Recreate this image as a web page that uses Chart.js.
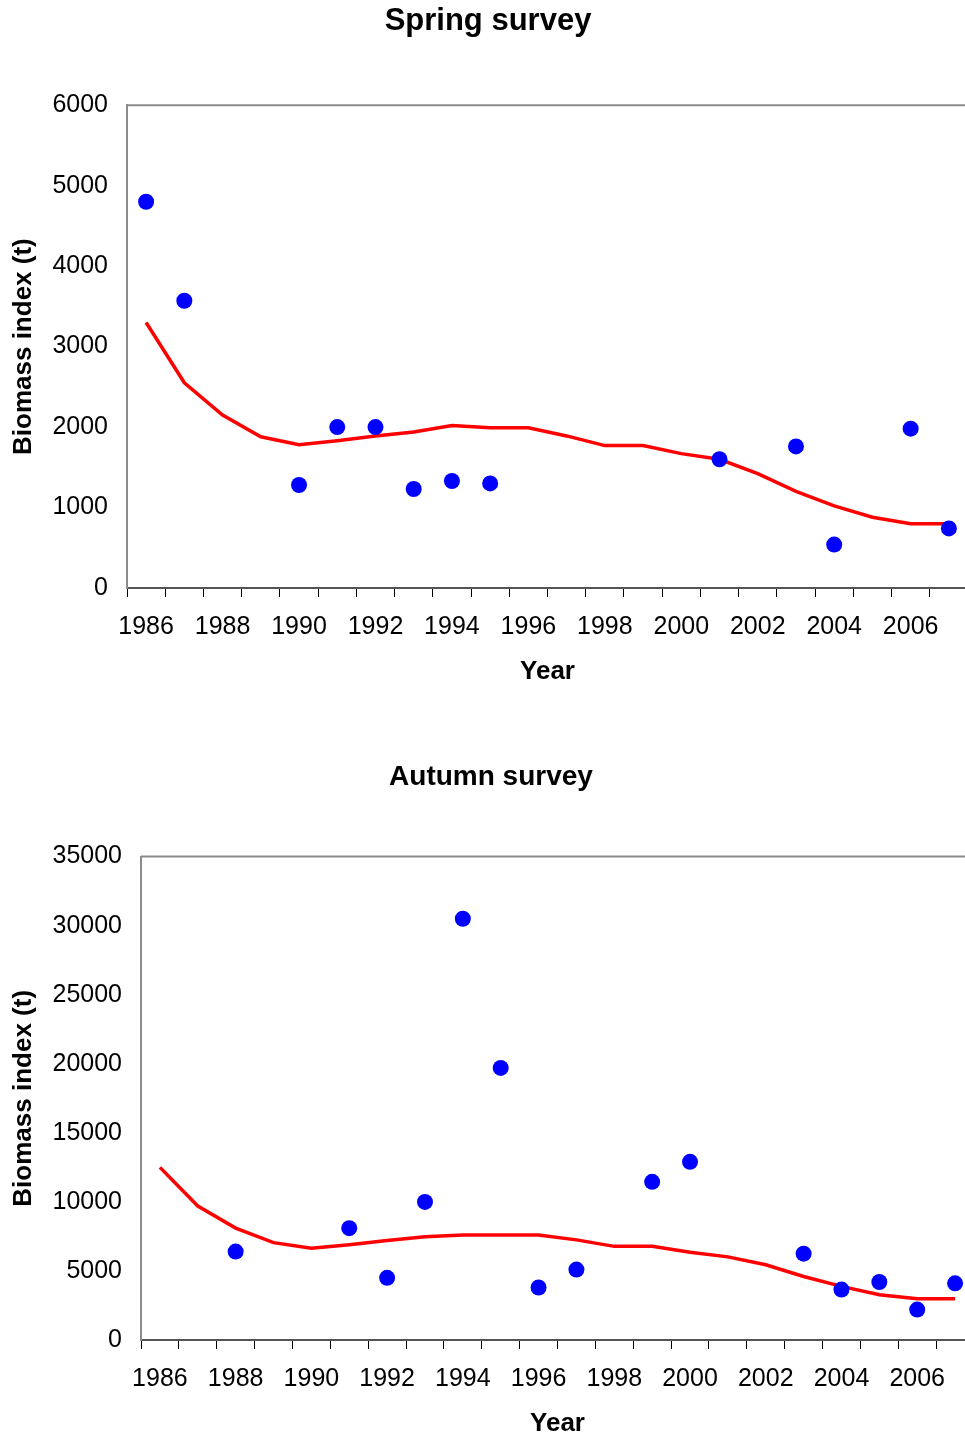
<!DOCTYPE html>
<html>
<head>
<meta charset="utf-8">
<script src="https://cdn.jsdelivr.net/npm/chart.js@4/dist/chart.umd.min.js"></script>
<style>
    html, body { margin: 0; padding: 0; background: #fff; overflow: hidden; }
    #wrap { position: relative; width: 965px; height: 1441px; overflow: hidden; }
    canvas { position: absolute; left: 0; }
    #spring-chart { top: 0; }
    #autumn-chart { top: 752px; }
</style>
</head>
<body>
<div id="wrap">
    <canvas id="spring-chart" width="976" height="700"></canvas>
    <canvas id="autumn-chart" width="982" height="700"></canvas>
</div>
<script>
const years = ['1986', '1987', '1988', '1989', '1990', '1991', '1992', '1993', '1994', '1995', '1996',
    '1997', '1998', '1999', '2000', '2001', '2002', '2003', '2004', '2005', '2006', '2007'];

// survey biomass index (dots)
const springIndex = [4800, 3570, null, null, 1280, 2000, 2000, 1230, 1330, 1300, null,
    null, null, null, null, 1600, null, 1760, 540, null, 1980, 740];
const autumnIndex = [null, null, 6400, null, null, 8100, 4500, 10000, 30500, 19700, 3800,
    5100, null, 11450, 12900, null, null, 6250, 3650, 4200, 2200, 4100];

// smoothed trend (red line)
const springSmooth = [3300, 2550, 2150, 1880, 1780, 1830, 1890, 1940, 2020, 1990, 1990,
    1890, 1770, 1770, 1670, 1600, 1420, 1200, 1020, 880, 800, 800];
const autumnSmooth = [12500, 9700, 8100, 7050, 6650, 6900, 7200, 7470, 7600, 7600, 7600,
    7250, 6780, 6780, 6350, 6020, 5450, 4600, 3880, 3280, 2990, 2990];

const springTicks = [0, 1000, 2000, 3000, 4000, 5000, 6000];
const autumnTicks = [0, 5000, 10000, 15000, 20000, 25000, 30000, 35000];

const FONT = '"Liberation Sans", Arial, Helvetica, sans-serif';

const frameLine = {
    id: 'frameLine',
    beforeDatasetsDraw(chart) {
        const { ctx, chartArea: a } = chart;
        ctx.save();
        ctx.strokeStyle = '#8c8c8c';
        ctx.lineWidth = 2;
        ctx.beginPath();
        ctx.moveTo(a.left, a.top);
        ctx.lineTo(a.right, a.top);
        ctx.lineTo(a.right, a.bottom);
        ctx.stroke();
        ctx.restore();
    }
};

function makeChart(id, title, titleSize, titlePad, dots, trend, yTicks, yWidth) {
    const ctx = document.getElementById(id).getContext('2d');
    return new Chart(ctx, {
        type: 'line',
        data: {
            labels: years,
            datasets: [{
                label: 'Index',
                data: dots,
                showLine: false,
                pointRadius: 8,
                pointHoverRadius: 8,
                pointBackgroundColor: '#0000ff',
                pointBorderWidth: 0,
                borderColor: '#0000ff'
            }, {
                label: 'Smoothed',
                data: trend,
                borderColor: '#ff0000',
                borderWidth: 3.5,
                pointRadius: 0,
                tension: 0,
                fill: false
            }]
        },
        options: {
            responsive: false,
            animation: false,
            layout: { padding: 0 },
            plugins: {
                legend: { display: false },
                tooltip: { enabled: false },
                title: {
                    display: true,
                    text: title,
                    color: '#000',
                    font: { family: FONT, size: titleSize, weight: 'bold' },
                    padding: titlePad
                }
            },
            scales: {
                x: {
                    type: 'category',
                    offset: true,
                    afterFit: s => { s.height = 112; },
                    grid: {
                        offset: true,
                        drawOnChartArea: false,
                        drawTicks: true,
                        tickLength: 9,
                        tickColor: '#000',
                        tickWidth: 1
                    },
                    border: { display: true, color: '#555', width: 2 },
                    ticks: {
                        autoSkip: false,
                        maxRotation: 0,
                        padding: 15,
                        color: '#000',
                        font: { family: FONT, size: 25 },
                        callback: (v, i) => (i % 2 === 0 ? years[i] : '')
                    },
                    title: {
                        display: true,
                        text: 'Year',
                        color: '#000',
                        font: { family: FONT, size: 26, weight: 'bold' },
                        padding: { top: 0, bottom: 13 }
                    }
                },
                y: {
                    min: yTicks[0],
                    max: yTicks[yTicks.length - 1],
                    afterFit: s => { s.width = yWidth; },
                    afterBuildTicks: s => { s.ticks = yTicks.map(v => ({ value: v })); },
                    grid: { drawOnChartArea: false, drawTicks: false },
                    border: { display: true, color: '#8c8c8c', width: 2 },
                    ticks: {
                        padding: 19,
                        color: '#000',
                        font: { family: FONT, size: 25 },
                        callback: v => String(v)
                    },
                    title: {
                        display: true,
                        text: 'Biomass index (t)',
                        color: '#000',
                        font: { family: FONT, size: 26, weight: 'bold' },
                        padding: { top: 8, bottom: 0 }
                    }
                }
            }
        },
        plugins: [frameLine]
    });
}

document.addEventListener('DOMContentLoaded', () => {
    makeChart('spring-chart', 'Spring survey', 31, { top: 3, bottom: 65 },
        springIndex, springSmooth, springTicks, 127);
    makeChart('autumn-chart', 'Autumn survey', 28, { top: 8, bottom: 63 },
        autumnIndex, autumnSmooth, autumnTicks, 141);
});
</script>
</body>
</html>
